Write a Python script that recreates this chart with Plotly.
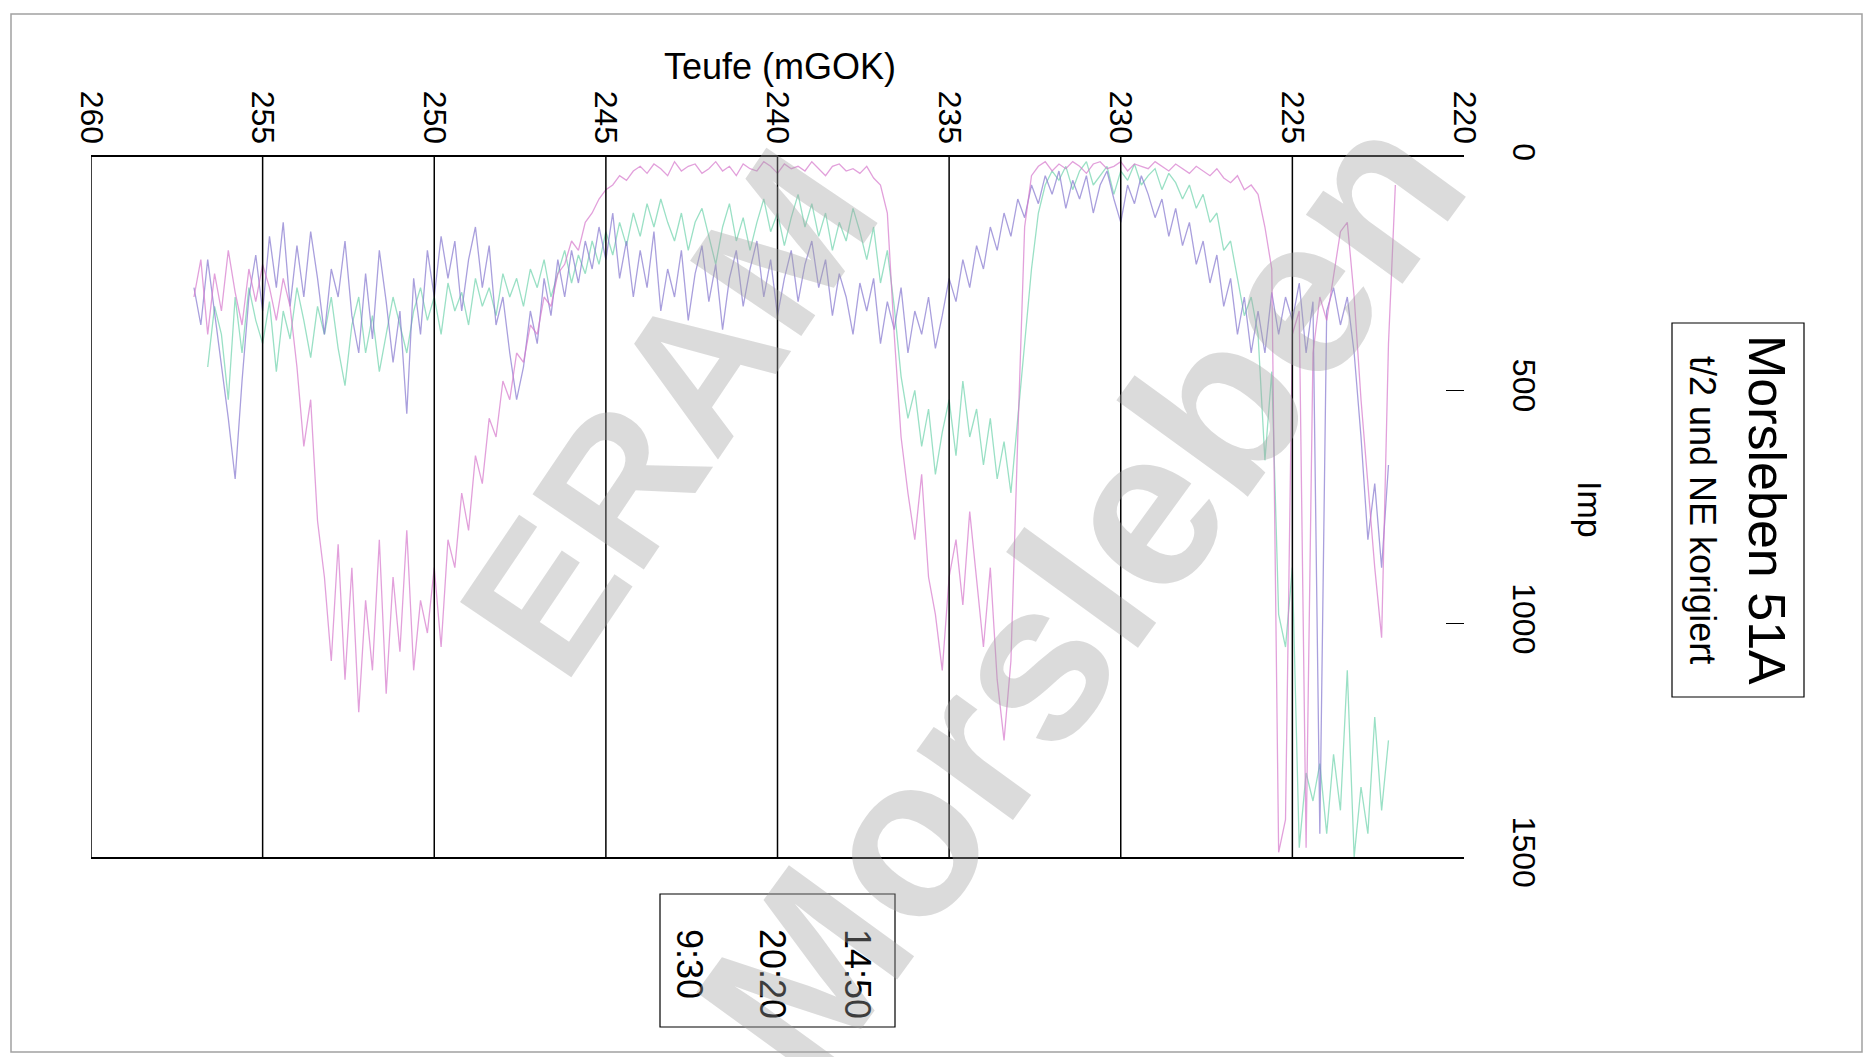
import plotly.graph_objects as go

# Depth samples every 0.2 m, starting at 257.2 mGOK and going upward
START_DEPTH = 257.2
STEP = 0.2

# Impulse rates per series (None = no reading)
imp_1450 = [
    None,
    300, 220, 380, 250, 330, 200, 290, 360, 240, 310, 230, 280, 350, 260, 320,
    450, 620, 520, 780, 900, 1080, 830, 1120, 880, 1190,
    950, 1100, 820, 1150, 900, 1060, 800, 1100, 950, 1020,
    880, 1050, 820, 880, 720, 800, 640, 700, 560, 600,
    480, 520, 420, 440, 360, 380, 300, 320, 250, 230,
    180, 200, 140, 120, 90, 70, 60, 40, 50, 30,
    20, 35, 15, 25, 40, 10, 30, 20, 15, 35,
    25, 10, 30, 20, 40, 15, 25, 30, 10, 20,
    35, 15, 25, 20, 30, 10, 25, 40, 20, 15,
    30, 25, 35, 20, 45, 60,
    120, 380, 600, 720, 820, 680, 900, 980, 1100, 900,
    820, 960, 760, 900, 1050, 880, 1120, 1250, 1080, 600,
    150, 40,
    20, 10, 30, 15, 25, 10, 20, 35, 15, 10,
    25, 20, 10, 30, 15, 20, 25, 10, 20, 30,
    15, 25, 35, 20, 30, 40, 25, 45, 55, 40,
    70, 60,
    80, 150, 240, 1490, 1420, 380, 330, 1480, 420, 300,
    350, 250, 160, 140, 300, 520, 700, 880, 1030, 400,
    60, None,
]

imp_2020 = [
    None,
    280, 360, 220, 330, 450, 560, 690, 480, 300, 210,
    330, 170, 280, 140, 320, 190, 300, 160, 260, 380,
    240, 300, 180, 340, 420, 250, 390, 200, 310, 440,
    330, 550, 260, 380, 200, 300, 170, 260, 180, 330,
    220, 150, 280, 190, 360, 300, 420, 520, 450, 330,
    400, 260, 340, 220, 300, 200, 270, 180, 240, 150,
    220, 120, 260, 180, 300, 200, 280, 160, 330, 240,
    300, 200, 350, 250, 190, 310, 230, 370, 260, 200,
    320, 240, 180, 300, 220, 340, 260, 200, 310, 230,
    180, 280, 220, 340, 250, 300, 380, 270, 330, 260,
    400, 310, 370, 280, 420, 330, 380, 300, 410, 340,
    260, 310, 220, 280, 190, 240, 150, 200, 120, 170,
    90, 130, 60, 100, 40, 80, 30, 110, 50, 90,
    40, 120, 60, 30, 90, 140, 60, 100, 40, 80,
    130, 90, 170, 110, 190, 140, 230, 180, 270, 210,
    320, 260, 380, 300, 420,
    330, 420, 290, 380, 300, 350, 270, 420, 310, 1450,
    330, 280, 360, 300, 420, 600, 820, 700, 880, 660,
    None, None,
]

imp_0930 = [
    None, None, None,
    450, 320, 380, 520, 300, 420, 280, 350, 400, 310,
    460, 330, 390, 280, 350, 430, 320, 380, 300, 410,
    490, 360, 300, 420, 340, 460, 380, 300, 360, 420,
    330, 280, 350, 300, 380, 270, 330, 290, 360, 260,
    320, 280, 340, 250, 300, 260, 320, 240, 280, 220,
    300, 250, 200, 270, 210, 250, 180, 230, 160, 210,
    140, 190, 120, 170, 100, 150, 90, 140, 180, 120,
    200, 140, 110, 170, 230, 150, 100, 180, 130, 200,
    140, 90, 160, 120, 190, 130, 80, 150, 100, 170,
    120, 200, 140, 180, 110, 160, 220, 150, 270, 200,
    320, 470, 560, 500, 620, 540, 680, 590, 520, 640,
    480, 600, 540, 660, 560, 690, 610, 720, 560, 400,
    240, 120, 60, 30,
    50, 20, 70, 30, 10, 60, 40, 20, 80, 30, 50, 15,
    60, 40, 25, 70, 35, 55, 90, 60, 110, 80, 140, 120,
    200, 180, 260, 340, 300,
    380, 650, 460, 980, 1050, 880, 1480, 1320, 1380, 1300,
    1450, 1280, 1400, 1100, 1500, 1350, 1450, 1200, 1400, 1250,
    None, None,
]

series_names = ["14:50", "20:20", "9:30"]
series_colors = ["rgba(214,120,204,0.7)", "rgba(132,118,206,0.7)", "rgba(120,214,178,0.75)"]
depth_ticks = [260, 255, 250, 245, 240, 235, 230, 225, 220]
imp_ticks = [0, 500, 1000, 1500]


def depths(values):
    return [round(START_DEPTH - STEP * i, 1) for i in range(len(values))]


FONT = "Arial, Liberation Sans, sans-serif"
W, H = 1871, 1057
# plot area in pixels
PL, PR, PT, PB = 91, 1464, 157, 857


def px(x):
    return (x - PL) / (PR - PL)


def py(y):
    return (PB - y) / (PB - PT)


fig = go.Figure()
for vals, name, col in zip([imp_0930, imp_2020, imp_1450],
                           ["9:30", "20:20", "14:50"],
                           [series_colors[2], series_colors[1], series_colors[0]]):
    fig.add_trace(go.Scatter(x=depths(vals), y=vals, mode="lines", name=name,
                             line=dict(color=col, width=1.3), connectgaps=False,
                             showlegend=False))

shapes = []
# vertical depth grid
for d in depth_ticks[:-1]:
    shapes.append(dict(type="line", xref="x", yref="paper", x0=d, x1=d, y0=0, y1=1,
                       line=dict(color="black", width=1.5)))
# page frame
shapes.append(dict(type="rect", xref="paper", yref="paper",
                   x0=px(11), x1=px(1862), y0=py(14), y1=py(1052),
                   line=dict(color="rgba(120,120,120,0.7)", width=1.5)))
# title box and legend box
shapes.append(dict(type="rect", xref="paper", yref="paper",
                   x0=px(1672), x1=px(1804), y0=py(323), y1=py(697),
                   line=dict(color="black", width=1.2), fillcolor="white", layer="below"))
shapes.append(dict(type="rect", xref="paper", yref="paper",
                   x0=px(660), x1=px(895), y0=py(894), y1=py(1027),
                   line=dict(color="black", width=1.2), fillcolor="white", layer="below"))


def label(text, x, y, size, angle=0, yanchor="middle", color="black", bold=False):
    return dict(text=f"<b>{text}</b>" if bold else text, xref="paper", yref="paper",
                x=px(x), y=py(y), xanchor="center", yanchor=yanchor, textangle=angle,
                showarrow=False, font=dict(size=size, color=color, family=FONT))


annotations = [
    label("Teufe (mGOK)", 780, 66, 36),
    label("Imp", 1590, 510, 34, angle=90),
    label("Morsleben 51A", 1767, 510, 52, angle=90),
    label("t/2 und NE korigiert", 1702, 510, 36, angle=90),
]
for name, xc in zip(series_names, [858, 773, 690]):
    annotations.append(label(name, xc, 927, 36, angle=90, yanchor="top"))
# watermark
wm = "rgba(160,160,160,0.38)"
annotations.append(label("ERAM", 668, 412, 195, angle=-56, color=wm, bold=True))
annotations.append(label("Morsleben", 1080, 595, 225, angle=-54, color=wm, bold=True))

fig.update_layout(
    width=W, height=H, autosize=False,
    margin=dict(l=PL, r=W - PR, t=PT, b=H - PB),
    paper_bgcolor="white", plot_bgcolor="white",
    font=dict(family=FONT, color="black"),
    shapes=shapes, annotations=annotations, showlegend=False,
)
fig.update_xaxes(range=[260, 220], side="top", tickvals=depth_ticks, tickangle=90,
                 tickfont=dict(size=32, color="black"), showgrid=False, zeroline=False,
                 showline=True, linecolor="black", linewidth=1.5, mirror=True, ticks="")
fig.update_yaxes(range=[1500, 0], side="right", tickvals=imp_ticks, tickangle=90,
                 tickfont=dict(size=32, color="black"), showgrid=False, zeroline=False,
                 showline=False, ticks="inside", ticklen=18, tickcolor="black", tickwidth=1.2,
                 ticklabelstandoff=42)

fig.write_html("out.html")
